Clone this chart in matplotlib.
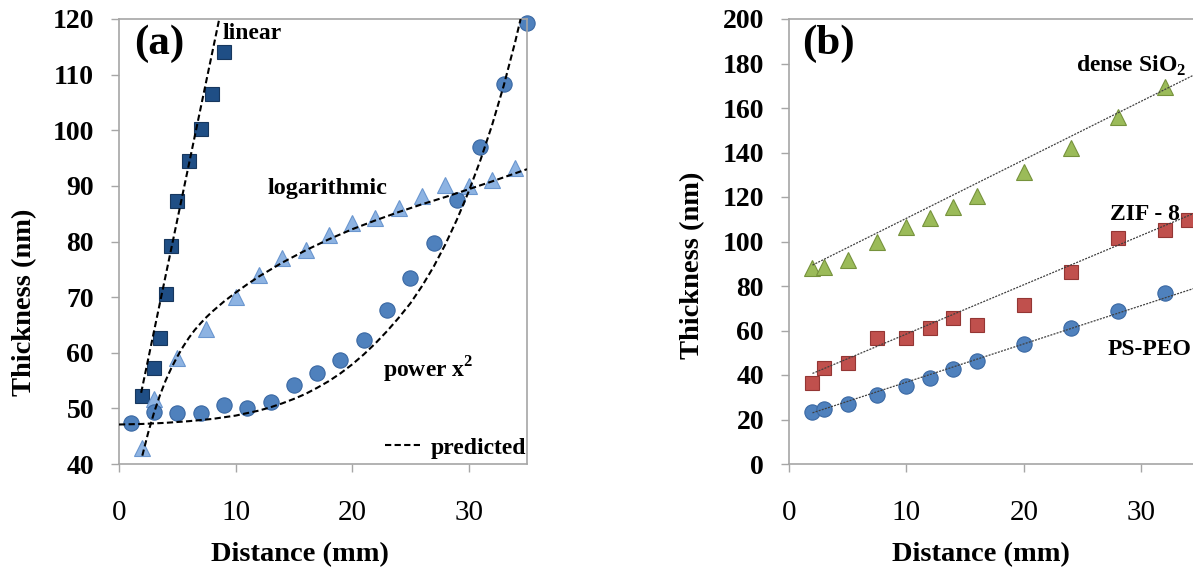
import matplotlib
matplotlib.use('Agg')
import matplotlib.pyplot as plt
from matplotlib.lines import Line2D

plt.rcParams['font.family'] = 'Liberation Serif'
plt.rcParams['mathtext.fontset'] = 'custom'
plt.rcParams['mathtext.rm'] = 'Liberation Serif'
plt.rcParams['mathtext.bf'] = 'Liberation Serif:bold'

# ---- panel (a) data ----
lin_x = [2, 3, 3.5, 4, 4.5, 5, 6, 7, 8, 9]
lin_y = [52.2, 57.3, 62.6, 70.6, 79.2, 87.2, 94.5, 100.3, 106.6, 114.1]
lin_fit_x = [1.9, 8.6]
lin_fit_y = [52.8, 120]

log_x = [2, 3, 5, 7.5, 10, 12, 14, 16, 18, 20, 22, 24, 26, 28, 30, 32, 34]
log_y = [42.8, 51.6, 59.0, 64.2, 70.1, 74.0, 77.0, 78.5, 81.2, 83.3, 84.2, 86.0, 88.1, 90.2, 90.0, 91.1, 93.2]
log_fit_x = [2, 2.5, 3, 3.5, 4, 4.5, 5, 5.5, 6, 6.5, 7, 7.5, 8, 9, 10, 11, 12, 14, 16, 18, 20,
             22, 24, 26, 28, 30, 32, 35]
log_fit_y = [41.5, 45.6, 49.2, 52.3, 55.0, 57.3, 59.3, 61.1, 62.7, 64.1, 65.3, 66.4, 67.4, 69.2, 70.8,
             72.3, 73.7, 76.2, 78.4, 80.4, 82.2, 83.8, 85.3, 86.7, 88.0, 89.4, 90.8, 93.0]

pow_x = [1, 3, 5, 7, 9, 11, 13, 15, 17, 19, 21, 23, 25, 27, 29, 31, 33, 35]
pow_y = [47.3, 49.4, 49.1, 49.1, 50.6, 50.0, 51.2, 54.2, 56.3, 58.7, 62.3, 67.6, 73.5, 79.7, 87.5, 96.9, 108.4, 119.2]
pow_fit_x = [0, 2, 4, 6, 8, 10, 12, 13, 14, 15, 16, 17, 18, 19, 20, 21, 22, 23, 24, 25, 26, 27,
             28, 29, 30, 31, 32, 33, 34, 34.45]
pow_fit_y = [47.1, 47.2, 47.4, 47.7, 48.1, 48.7, 49.6, 50.2, 50.9, 51.7, 52.6, 53.7, 54.9, 56.3, 57.9,
             59.7, 61.7, 63.9, 66.3, 68.9, 72.0, 75.5, 79.5, 84.0, 89.0, 94.6, 100.9, 108.0, 116.0, 120.0]

# ---- panel (b) data ----
b_x = [2, 3, 5, 7.5, 10, 12, 14, 16, 20, 24, 28, 32]
sio2_y = [87.9, 88.7, 91.7, 99.9, 106.7, 110.4, 115.7, 120.4, 131.4, 141.9, 155.8, 169.3]
zif_x = [2, 3, 5, 7.5, 10, 12, 14, 16, 20, 24, 28, 32, 34]
zif_y = [36.6, 43.0, 45.2, 56.5, 56.5, 61.0, 65.5, 62.5, 71.5, 86.4, 101.4, 105.2, 109.7]
pspeo_y = [23.5, 24.6, 27.0, 31.0, 35.2, 38.8, 42.7, 46.4, 53.8, 61.3, 68.9, 76.7]

trend_x = [2, 35]
sio2_trend = [89.4, 176.2]
zif_trend = [40.7, 113.8]
pspeo_trend = [23.0, 79.8]

W, H = 1193, 574
fig = plt.figure(figsize=(W / 100, H / 100), dpi=100)
ax_a = fig.add_axes([119 / W, 110 / H, 408 / W, 445 / H])
ax_b = fig.add_axes([789 / W, 110 / H, 411 / W, 445 / H])

spine_col = '#a6a6a6'
bold = dict(fontweight='bold', family='Liberation Serif')
dash = (0, (3, 1.6))


def style_axes(ax, full_box):
    for side in ['left', 'bottom', 'top', 'right']:
        ax.spines[side].set_color(spine_col)
        ax.spines[side].set_linewidth(1.2)
    ax.spines['right'].set_visible(full_box)
    ax.tick_params(axis='both', direction='out', color=spine_col, length=6, width=1.0)
    ax.tick_params(axis='y', labelsize=20, pad=12)
    ax.tick_params(axis='x', labelsize=21, pad=20)
    for lab in ax.get_yticklabels():
        lab.set_fontweight('bold')
    ax.set_xticks([0, 10, 20, 30])


# panel (a)
ax_a.plot(lin_fit_x, lin_fit_y, color='black', ls=dash, lw=1.5, zorder=3)
ax_a.plot(log_fit_x, log_fit_y, color='black', ls=dash, lw=1.5, zorder=3)
ax_a.plot(pow_fit_x, pow_fit_y, color='black', ls=dash, lw=1.5, zorder=3)
ax_a.plot(lin_x, lin_y, ls='none', marker='s', ms=10, mfc='#1f4e85', mec='#17375e', mew=0.8, zorder=2)
ax_a.plot(log_x, log_y, ls='none', marker='^', ms=12, mfc='#8db3e2', mec='#6a96cf', mew=0.8, zorder=2)
ax_a.plot(pow_x, pow_y, ls='none', marker='o', ms=11, mfc='#4f81bd', mec='#3a68a3', mew=0.8, zorder=2,
          clip_on=False)
ax_a.set_xlim(0, 35)
ax_a.set_ylim(40, 120)
ax_a.set_yticks(range(40, 121, 10))
style_axes(ax_a, True)

ax_a.text(0.098, 0.945, '(a)', transform=ax_a.transAxes, fontsize=31, ha='center', va='center', **bold)
ax_a.text(0.255, 0.968, 'linear', transform=ax_a.transAxes, fontsize=17, ha='left', va='center', **bold)
ax_a.text(0.365, 0.618, 'logarithmic', transform=ax_a.transAxes, fontsize=17.5, ha='left', va='center', **bold)
ax_a.text(0.646, 0.212, r'power x$^\mathbf{2}$', transform=ax_a.transAxes, fontsize=17, ha='left',
          va='center', **bold)
key = Line2D([], [], color='black', ls=dash, lw=1.5)
ax_a.legend([key], ['predicted'], loc='lower right', bbox_to_anchor=(1.025, -0.012), frameon=False,
            handlelength=1.6, handletextpad=0.35, borderaxespad=0.05,
            prop=dict(family='Liberation Serif', weight='bold', size=17))

# panel (b)
ax_b.plot(trend_x, sio2_trend, color='#404040', ls=(0, (1.6, 1.0)), lw=0.9, zorder=3)
ax_b.plot(trend_x, zif_trend, color='#404040', ls=(0, (1.6, 1.0)), lw=0.9, zorder=3)
ax_b.plot(trend_x, pspeo_trend, color='#404040', ls=(0, (1.6, 1.0)), lw=0.9, zorder=3)
ax_b.plot(b_x, sio2_y, ls='none', marker='^', ms=12, mfc='#9bbb59', mec='#76923c', mew=0.8, zorder=2)
ax_b.plot(zif_x, zif_y, ls='none', marker='s', ms=10, mfc='#c0504d', mec='#943634', mew=0.8, zorder=2)
ax_b.plot(b_x, pspeo_y, ls='none', marker='o', ms=11, mfc='#4f81bd', mec='#3a68a3', mew=0.8, zorder=2)
ax_b.set_xlim(0, 35)
ax_b.set_ylim(0, 200)
ax_b.set_yticks(range(0, 201, 20))
style_axes(ax_b, False)

ax_b.text(0.095, 0.945, '(b)', transform=ax_b.transAxes, fontsize=31, ha='center', va='center', **bold)
ax_b.text(0.698, 0.895, r'dense SiO$_\mathbf{2}$', transform=ax_b.transAxes, fontsize=17, ha='left',
          va='center', **bold)
ax_b.text(0.781, 0.560, 'ZIF - 8', transform=ax_b.transAxes, fontsize=17, ha='left', va='center', **bold)
ax_b.text(0.774, 0.258, 'PS-PEO', transform=ax_b.transAxes, fontsize=17, ha='left', va='center', **bold)

# axis titles
fig.text(300 / W, 1 - 555 / H, 'Distance (mm)', fontsize=20.5, ha='center', va='center', **bold)
fig.text(981 / W, 1 - 555 / H, 'Distance (mm)', fontsize=20.5, ha='center', va='center', **bold)
fig.text(25 / W, 1 - 302 / H, 'Thickness (nm)', fontsize=20.5, ha='center', va='center', rotation=90, **bold)
fig.text(693 / W, 1 - 265 / H, 'Thickness (nm)', fontsize=20.5, ha='center', va='center', rotation=90, **bold)

fig.savefig('out.png', dpi=100)
